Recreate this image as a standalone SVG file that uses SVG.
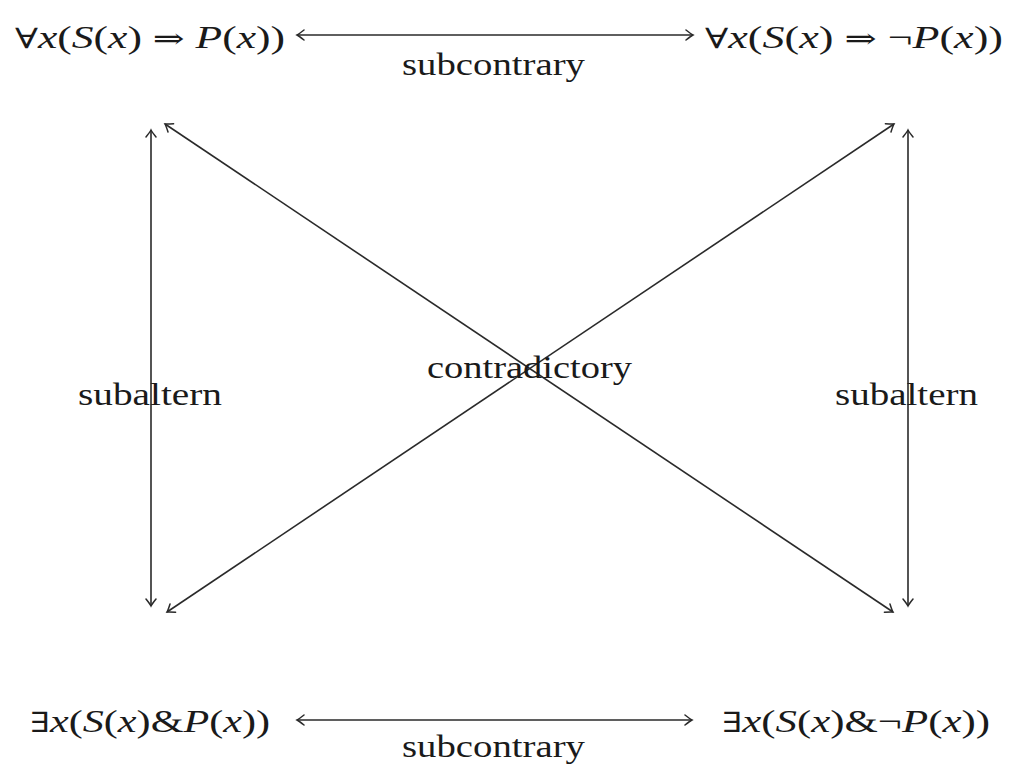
<svg xmlns="http://www.w3.org/2000/svg" width="1020" height="784" viewBox="0 0 1020 784">
<style>
text{font-family:"Liberation Serif","DejaVu Serif",serif;font-size:32px;fill:#1a1a1a}
.i{font-style:italic}
.s{font-family:"DejaVu Serif",serif;font-size:28px}
.c line{stroke:#2a2a2a;stroke-width:1.6;fill:none}
</style>
<defs>
<marker id="ah" viewBox="-10 -6 12 12" refX="0" refY="0" markerWidth="12" markerHeight="12" markerUnits="userSpaceOnUse" orient="auto-start-reverse">
<path d="M-7,-5 Q-2,-1 0,0 Q-2,1 -7,5" fill="none" stroke="#2a2a2a" stroke-width="1.5" stroke-linecap="round"/>
</marker>
</defs>
<rect width="1020" height="784" fill="#fff"/>
<g class="c" id="connectors">
<line x1="297" y1="35" x2="693" y2="35" marker-start="url(#ah)" marker-end="url(#ah)"/>
<line x1="297" y1="720" x2="692" y2="720" marker-start="url(#ah)" marker-end="url(#ah)"/>
<line x1="151" y1="130" x2="151" y2="606" marker-start="url(#ah)" marker-end="url(#ah)"/>
<line x1="908" y1="130" x2="908" y2="606" marker-start="url(#ah)" marker-end="url(#ah)"/>
<line x1="165" y1="124" x2="893" y2="612" marker-start="url(#ah)" marker-end="url(#ah)"/>
<line x1="167" y1="612" x2="894" y2="124" marker-start="url(#ah)" marker-end="url(#ah)"/>
</g>
<g id="labels">
<text x="402" y="75" textLength="183" lengthAdjust="spacingAndGlyphs">subcontrary</text>
<text x="402" y="757" textLength="183" lengthAdjust="spacingAndGlyphs">subcontrary</text>
<text x="427" y="378" textLength="205" lengthAdjust="spacingAndGlyphs">contradictory</text>
<text x="78" y="405" textLength="144" lengthAdjust="spacingAndGlyphs">subaltern</text>
<text x="835" y="405" textLength="143" lengthAdjust="spacingAndGlyphs">subaltern</text>
</g>
<g id="node-A">
<text x="15" y="48" textLength="270" lengthAdjust="spacingAndGlyphs"><tspan class="s">∀</tspan><tspan class="i">x</tspan>(<tspan class="i">S</tspan>(<tspan class="i">x</tspan>) <tspan class="s">⇒</tspan> <tspan class="i">P</tspan>(<tspan class="i">x</tspan>))</text>
</g>
<g id="node-E">
<text x="705" y="48" textLength="298" lengthAdjust="spacingAndGlyphs"><tspan class="s">∀</tspan><tspan class="i">x</tspan>(<tspan class="i">S</tspan>(<tspan class="i">x</tspan>) <tspan class="s">⇒</tspan> ¬<tspan class="i">P</tspan>(<tspan class="i">x</tspan>))</text>
</g>
<g id="node-I">
<text x="30" y="732" textLength="240" lengthAdjust="spacingAndGlyphs"><tspan class="s">∃</tspan><tspan class="i">x</tspan>(<tspan class="i">S</tspan>(<tspan class="i">x</tspan>)&amp;<tspan class="i">P</tspan>(<tspan class="i">x</tspan>))</text>
</g>
<g id="node-O">
<text x="722" y="732" textLength="268" lengthAdjust="spacingAndGlyphs"><tspan class="s">∃</tspan><tspan class="i">x</tspan>(<tspan class="i">S</tspan>(<tspan class="i">x</tspan>)&amp;¬<tspan class="i">P</tspan>(<tspan class="i">x</tspan>))</text>
</g>
</svg>
